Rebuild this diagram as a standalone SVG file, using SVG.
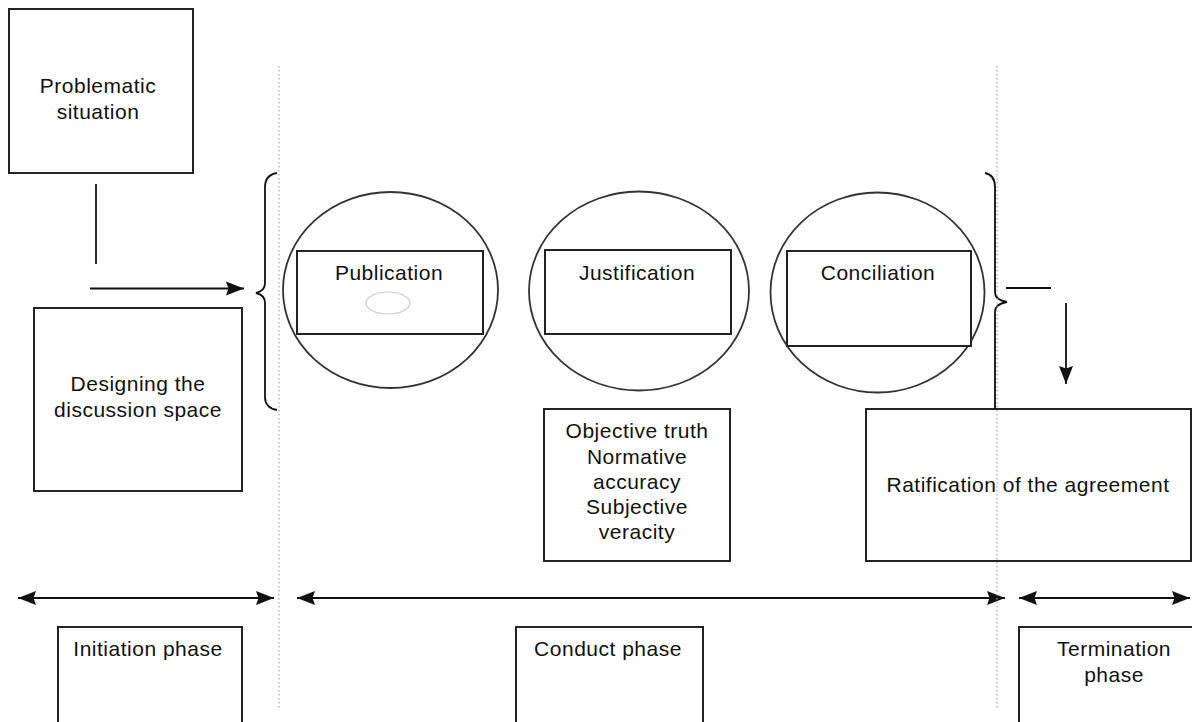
<svg xmlns="http://www.w3.org/2000/svg" width="1192" height="722" viewBox="0 0 1192 722">
<defs>
<marker id="ah" viewBox="0 0 18 16" refX="18" refY="8" markerWidth="18" markerHeight="16" markerUnits="userSpaceOnUse" orient="auto-start-reverse">
<path d="M0,1 L18,8 L0,15 L2.5,8 Z" fill="#111"/>
</marker>
</defs>
<style>
.box{fill:#fff;stroke:#222;stroke-width:2}
.circ{fill:#fff;stroke:#333;stroke-width:1.8}
.t{font-family:"Liberation Sans",Arial,sans-serif;font-size:21px;letter-spacing:0.5px;fill:#111;text-anchor:middle}
.ln{stroke:#111;stroke-width:1.8;fill:none}
.dot{stroke:#aaa;stroke-width:1.2;stroke-dasharray:1.5 2.5;fill:none}
</style>
<rect width="1192" height="722" fill="#fff"/>
<g id="problematic">
<rect class="box" x="9" y="9" width="184" height="164"/>
<text class="t" x="98" y="93">Problematic</text>
<text class="t" x="98" y="119">situation</text>
</g>
<g id="designing">
<rect class="box" x="34" y="308" width="208" height="183"/>
<text class="t" x="138" y="391">Designing the</text>
<text class="t" x="138" y="417">discussion space</text>
</g>
<g id="publication">
<ellipse class="circ" cx="390.5" cy="290" rx="107.5" ry="98"/>
<rect class="box" x="297" y="251" width="186" height="83"/>
<text class="t" x="389" y="280">Publication</text>
<ellipse cx="388" cy="303" rx="22" ry="11" fill="none" stroke="#ccc" stroke-width="1.2"/>
</g>
<g id="justification">
<ellipse class="circ" cx="639" cy="291" rx="110" ry="99.5"/>
<rect class="box" x="545" y="250" width="186" height="84"/>
<text class="t" x="637" y="280">Justification</text>
</g>
<g id="conciliation">
<ellipse class="circ" cx="877.5" cy="292.5" rx="107" ry="100"/>
<rect class="box" x="787" y="251" width="184" height="95"/>
<text class="t" x="878" y="280">Conciliation</text>
</g>
<g id="validity">
<rect class="box" x="544" y="409" width="186" height="152"/>
<text class="t" x="637" y="438">Objective truth</text>
<text class="t" x="637" y="464">Normative</text>
<text class="t" x="637" y="489">accuracy</text>
<text class="t" x="637" y="514">Subjective</text>
<text class="t" x="637" y="539">veracity</text>
</g>
<g id="ratification">
<rect class="box" x="866" y="409" width="325" height="152"/>
<text class="t" x="1028" y="492">Ratification of the agreement</text>
</g>
<g id="initiation">
<rect class="box" x="58" y="627" width="184" height="110"/>
<text class="t" x="148" y="656">Initiation phase</text>
</g>
<g id="conduct">
<rect class="box" x="516" y="627" width="187" height="110"/>
<text class="t" x="608" y="656">Conduct phase</text>
</g>
<g id="termination">
<rect class="box" x="1019" y="627" width="190" height="110"/>
<text class="t" x="1114" y="656">Termination</text>
<text class="t" x="1114" y="682">phase</text>
</g>
<g id="connectors">
<line class="ln" x1="96" y1="184" x2="96" y2="264"/>
<line class="ln" x1="90" y1="288.5" x2="244" y2="288.5" marker-end="url(#ah)"/>
<path class="ln" d="M277,173 Q265,175 265,187 L265,283 Q265,291 256,293 Q265,295 265,303 L265,397 Q265,408 277,410"/>
<path class="ln" d="M985,173 Q995,175 995,187 L995,292 Q995,300 1007,302 Q995,304 995,312 L995,409"/>
<line class="ln" x1="1006" y1="288" x2="1051" y2="288"/>
<line class="ln" x1="1066" y1="303" x2="1066" y2="384" marker-end="url(#ah)"/>
<line class="ln" x1="18" y1="598" x2="274" y2="598" marker-start="url(#ah)" marker-end="url(#ah)"/>
<line class="ln" x1="297" y1="598" x2="1005" y2="598" marker-start="url(#ah)" marker-end="url(#ah)"/>
<line class="ln" x1="1019" y1="598" x2="1190" y2="598" marker-start="url(#ah)" marker-end="url(#ah)"/>
</g>
<g id="dividers">
<line class="dot" x1="279" y1="66" x2="279" y2="710"/>
<line class="dot" x1="997" y1="66" x2="997" y2="710"/>
</g>
</svg>
